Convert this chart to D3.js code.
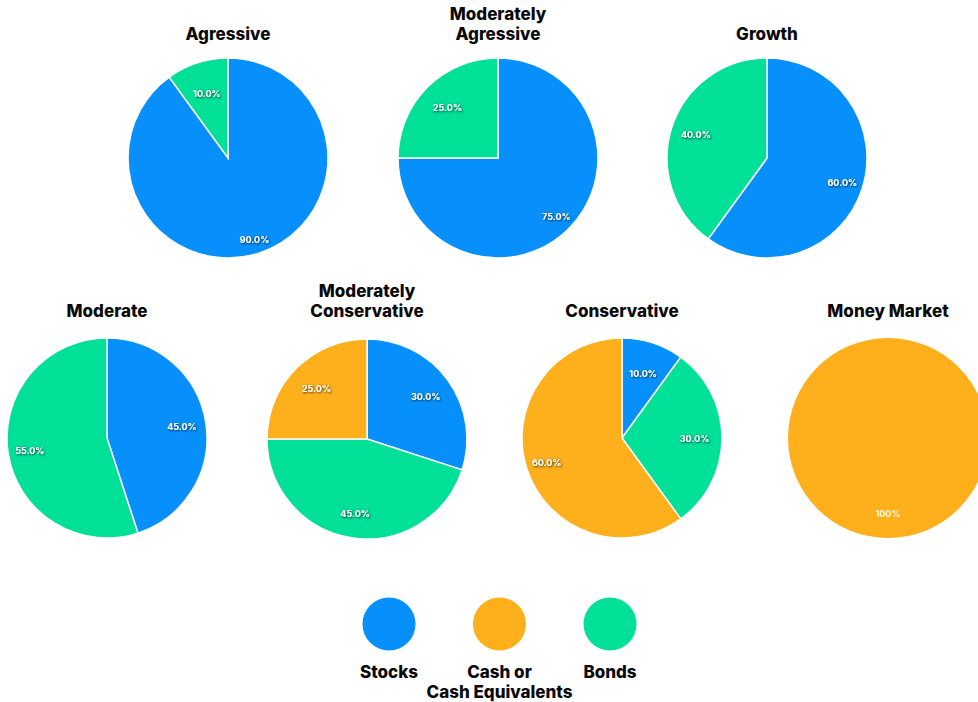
<!DOCTYPE html>
<html><head><meta charset="utf-8">
<script src="https://cdn.jsdelivr.net/npm/d3@7"></script>
<style>
html,body{margin:0;padding:0;background:#fff;overflow:hidden}
svg{display:block;font-family:Inter,"Noto Sans",sans-serif}
</style></head>
<body><svg id="chart" width="978" height="702"></svg>
<script>
// Data
const assetClasses = ["Stocks", "Bonds", "Cash or Cash Equivalents"];
const portfolioNames = ["Agressive", "Moderately Agressive", "Growth", "Moderate", "Moderately Conservative", "Conservative", "Money Market"];
const titleLines = [["Agressive"], ["Moderately", "Agressive"], ["Growth"], ["Moderate"], ["Moderately", "Conservative"], ["Conservative"], ["Money Market"]];
const stocksPct = [90, 75, 60, 45, 30, 10, 0];
const bondsPct  = [10, 25, 40, 55, 45, 30, 0];
const cashPct   = [0, 0, 0, 0, 25, 60, 100];
const legendOrder = ["Stocks", "Cash or Cash Equivalents", "Bonds"];
const legendLabelLines = [["Stocks"], ["Cash or", "Cash Equivalents"], ["Bonds"]];

const colors = {"Stocks": "#0790FC", "Bonds": "#00E096", "Cash or Cash Equivalents": "#FDAF1C"};

const svg = d3.select("#chart");
const defs = svg.append("defs");
const f = defs.append("filter").attr("id", "shadow").attr("x", "-20%").attr("y", "-50%").attr("width", "140%").attr("height", "200%");
f.append("feDropShadow").attr("dx", 0.8).attr("dy", 0.8).attr("stdDeviation", 0.8).attr("flood-color", "#000").attr("flood-opacity", 0.8);

// layout
const R = 100;
const cx = [228, 498, 767, 107, 367, 622, 888];
const cy = [158, 158, 158, 438, 439, 438, 438];
const titleBase = [40, 40, 40, 317, 317, 317, 317];

const pie = d3.pie().sort(null).value(d => d.v);
const arc = d3.arc().innerRadius(0).outerRadius(R);
const pctFmt = d3.format(".1f");

portfolioNames.forEach((name, i) => {
  const data = assetClasses.map((a, k) => ({a, v: [stocksPct, bondsPct, cashPct][k][i]})).filter(d => d.v > 0);
  const g = svg.append("g").attr("transform", `translate(${cx[i]},${cy[i]})`);
  const arcs = pie(data);
  g.selectAll("path").data(arcs).join("path")
    .attr("d", arc)
    .attr("fill", d => colors[d.data.a])
    .attr("stroke", data.length > 1 ? "#fff" : "none")
    .attr("stroke-width", 1.5);
  g.selectAll("text").data(arcs).join("text")
    .each(function(d) {
      const frac = d.data.v / 100;
      const lr = frac >= 1 ? 75 : 66 + 22 * frac;
      const mid = (d.startAngle + d.endAngle) / 2;
      d3.select(this).attr("x", Math.sin(mid) * lr).attr("y", -Math.cos(mid) * lr);
    })
    .attr("text-anchor", "middle").attr("dominant-baseline", "central")
    .attr("fill", "#fff").attr("font-size", 9).attr("font-weight", 700)
    .attr("filter", d => d.data.v >= 100 ? null : "url(#shadow)")
    .attr("fill-opacity", d => d.data.v >= 100 ? 0.9 : 1)
    .text(d => d.data.v >= 100 ? "100%" : pctFmt(d.data.v) + "%");
  // title
  const lines = titleLines[i];
  const t = svg.append("text").attr("text-anchor", "middle")
    .attr("font-size", 17).attr("font-weight", 800).attr("fill", "#0a0a0a");
  lines.forEach((ln, j) => {
    t.append("tspan").attr("x", cx[i]).attr("y", titleBase[i] - (lines.length - 1 - j) * 20).text(ln);
  });
});

// legend
const legX = d3.scalePoint().domain(legendOrder).range([389, 610]);
const lg = svg.append("g");
legendOrder.forEach((a, k) => {
  lg.append("circle").attr("cx", legX(a)).attr("cy", 624).attr("r", 26.5).attr("fill", colors[a]);
  const t = lg.append("text").attr("text-anchor", "middle").attr("font-size", 17).attr("font-weight", 800).attr("fill", "#0a0a0a");
  legendLabelLines[k].forEach((ln, j) => {
    t.append("tspan").attr("x", legX(a)).attr("y", 678 + j * 20).text(ln);
  });
});
</script></body></html>
